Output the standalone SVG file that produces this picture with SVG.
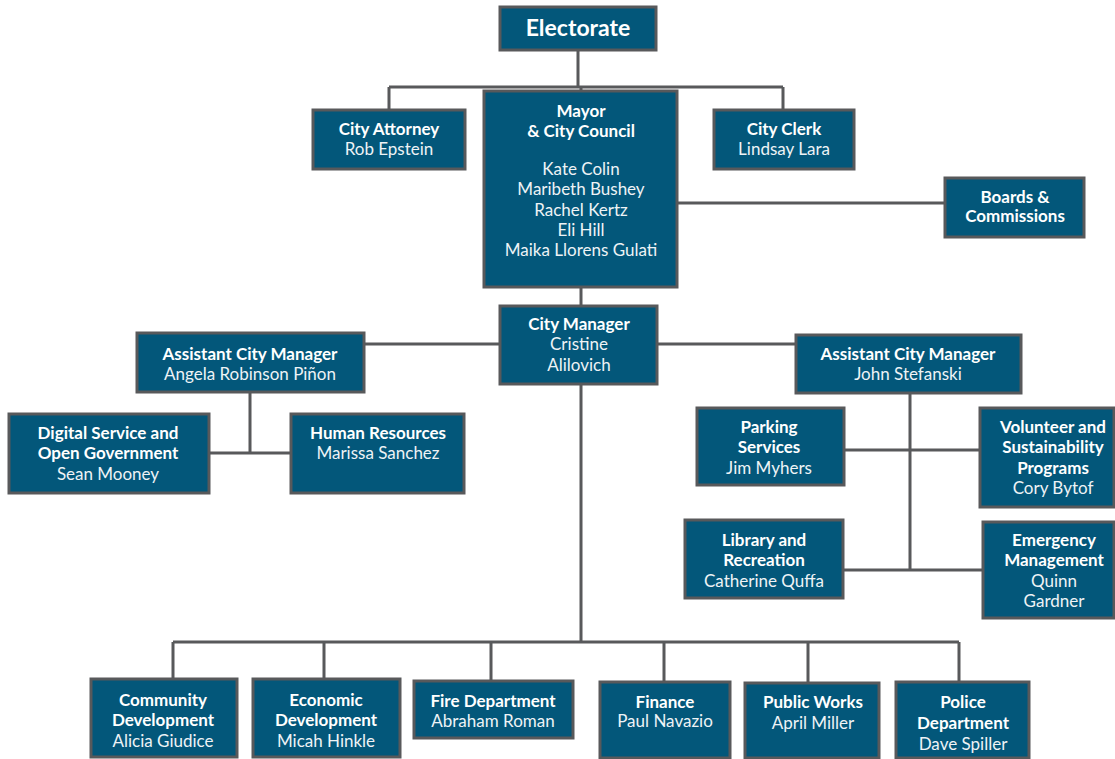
<svg xmlns="http://www.w3.org/2000/svg" width="1115" height="759" viewBox="0 0 1115 759">
<style>
.box{fill:#03577a;stroke:#58595b;stroke-width:3}
.t{font-family:Lato,"Liberation Sans",sans-serif;font-size:17px;fill:#ffffff;text-anchor:middle}
.b{font-weight:bold}
.n{fill:#eef3f6}
.ln{stroke:#58595b;stroke-width:3;fill:none}
</style>
<rect width="1115" height="759" fill="#ffffff"/>
<g id="connectors">
<path class="ln" d="M578 50V87M389 87H783M389 87V110M783 87V110M581 87V91"/>
<path class="ln" d="M677 203H945"/>
<path class="ln" d="M581 287V306"/>
<path class="ln" d="M364 344H500M657 344H796"/>
<path class="ln" d="M250 392V453M209 453H291"/>
<path class="ln" d="M910 393V570M844 450H980M843 570H983"/>
<path class="ln" d="M581 384V642M173 642H959M173 642V679M324 642V679M491 642V681M664 642V682M808 642V683M959 642V682"/>
</g>
<g id="electorate"><rect class="box" x="500" y="7" width="156" height="43"/><text class="t b" x="578" y="36" style="font-size:23px">Electorate</text></g>
<g id="city-attorney"><rect class="box" x="313" y="110" width="152" height="59"/><text class="t b" x="389" y="135">City Attorney</text><text class="t n" x="389" y="155">Rob Epstein</text></g>
<g id="mayor"><rect class="box" x="484" y="91" width="193" height="196"/><text class="t b" x="581" y="117">Mayor</text><text class="t b" x="581" y="137">&amp; City Council</text><text class="t n" x="581" y="175">Kate Colin</text><text class="t n" x="581" y="195">Maribeth Bushey</text><text class="t n" x="581" y="216">Rachel Kertz</text><text class="t n" x="581" y="236">Eli Hill</text><text class="t n" x="581" y="256">Maika Llorens Gulati</text></g>
<g id="city-clerk"><rect class="box" x="714" y="110" width="140" height="59"/><text class="t b" x="784" y="135">City Clerk</text><text class="t n" x="784" y="155">Lindsay Lara</text></g>
<g id="boards"><rect class="box" x="945" y="178" width="139" height="59"/><text class="t b" x="1015" y="203">Boards &amp;</text><text class="t b" x="1015" y="222">Commissions</text></g>
<g id="city-manager"><rect class="box" x="500" y="306" width="157" height="78"/><text class="t b" x="579" y="330">City Manager</text><text class="t n" x="579" y="350">Cristine</text><text class="t n" x="579" y="371">Alilovich</text></g>
<g id="acm-left"><rect class="box" x="137" y="333" width="227" height="59"/><text class="t b" x="250" y="360">Assistant City Manager</text><text class="t n" x="250" y="380">Angela Robinson Piñon</text></g>
<g id="acm-right"><rect class="box" x="796" y="335" width="225" height="58"/><text class="t b" x="908" y="360">Assistant City Manager</text><text class="t n" x="908" y="380">John Stefanski</text></g>
<g id="digital"><rect class="box" x="9" y="414" width="200" height="79"/><text class="t b" x="108" y="439">Digital Service and</text><text class="t b" x="108" y="459">Open Government</text><text class="t n" x="108" y="480">Sean Mooney</text></g>
<g id="hr"><rect class="box" x="291" y="414" width="173" height="79"/><text class="t b" x="378" y="439">Human Resources</text><text class="t n" x="378" y="459">Marissa Sanchez</text></g>
<g id="parking"><rect class="box" x="697" y="408" width="147" height="77"/><text class="t b" x="769" y="433">Parking</text><text class="t b" x="769" y="453">Services</text><text class="t n" x="769" y="474">Jim Myhers</text></g>
<g id="volunteer"><rect class="box" x="980" y="408" width="134" height="99"/><text class="t b" x="1053" y="433">Volunteer and</text><text class="t b" x="1053" y="453">Sustainability</text><text class="t b" x="1053" y="474">Programs</text><text class="t n" x="1053" y="494">Cory Bytof</text></g>
<g id="library"><rect class="box" x="685" y="520" width="158" height="78"/><text class="t b" x="764" y="546">Library and</text><text class="t b" x="764" y="566">Recreation</text><text class="t n" x="764" y="587">Catherine Quffa</text></g>
<g id="emergency"><rect class="box" x="983" y="522" width="131" height="96"/><text class="t b" x="1054" y="546">Emergency</text><text class="t b" x="1054" y="566">Management</text><text class="t n" x="1054" y="587">Quinn</text><text class="t n" x="1054" y="607">Gardner</text></g>
<g id="community"><rect class="box" x="91" y="679" width="146" height="78"/><text class="t b" x="163" y="706">Community</text><text class="t b" x="163" y="726">Development</text><text class="t n" x="163" y="747">Alicia Giudice</text></g>
<g id="economic"><rect class="box" x="253" y="679" width="147" height="78"/><text class="t b" x="326" y="706">Economic</text><text class="t b" x="326" y="726">Development</text><text class="t n" x="326" y="747">Micah Hinkle</text></g>
<g id="fire"><rect class="box" x="414" y="681" width="159" height="57"/><text class="t b" x="493" y="707">Fire Department</text><text class="t n" x="493" y="727">Abraham Roman</text></g>
<g id="finance"><rect class="box" x="600" y="682" width="130" height="76"/><text class="t b" x="665" y="708">Finance</text><text class="t n" x="665" y="727">Paul Navazio</text></g>
<g id="public-works"><rect class="box" x="745" y="683" width="134" height="75"/><text class="t b" x="813" y="708">Public Works</text><text class="t n" x="813" y="729">April Miller</text></g>
<g id="police"><rect class="box" x="896" y="682" width="133" height="76"/><text class="t b" x="963" y="708">Police</text><text class="t b" x="963" y="729">Department</text><text class="t n" x="963" y="750">Dave Spiller</text></g>
</svg>
